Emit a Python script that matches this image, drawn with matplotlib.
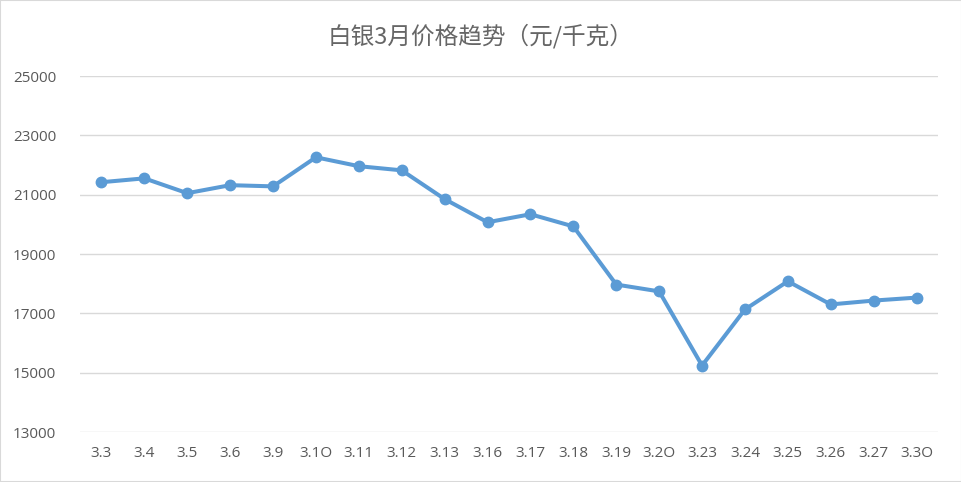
import matplotlib
matplotlib.use("Agg")
import matplotlib.pyplot as plt
from matplotlib.patches import Rectangle

# silver price, March (yuan/kg)
dates = ["3.3", "3.4", "3.5", "3.6", "3.9", "3.1O", "3.11", "3.12", "3.13", "3.16",
         "3.17", "3.18", "3.19", "3.2O", "3.23", "3.24", "3.25", "3.26", "3.27", "3.3O"]
prices = [21420, 21550, 21050, 21320, 21280, 22260, 21960, 21820, 20850, 20070,
          20340, 19930, 17970, 17740, 15240, 17130, 18080, 17300, 17430, 17530]
yticks = [13000, 15000, 17000, 19000, 21000, 23000, 25000]

plt.rcParams['font.family'] = ['Open Sans', 'Noto Sans CJK SC', 'DejaVu Sans']

fig = plt.figure(figsize=(9.62, 4.82), dpi=100)
fig.patches.append(Rectangle((0, 0), 1, 1, transform=fig.transFigure,
                             fill=False, edgecolor="#d9d9d9", linewidth=1.5))
ax = fig.add_axes([80/962, 1 - 432/482, 858/962, 356/482])

x = list(range(len(dates)))
ax.plot(x, prices, color="#5b9bd5", linewidth=2.9, marker="o", markersize=7.5,
        solid_capstyle="round", zorder=3)

ax.set_xlim(-0.5, len(dates) - 0.5)
ax.set_ylim(13000, 25000)
ax.set_yticks(yticks)
ax.set_xticks(x)
ax.set_xticklabels(dates)
ax.grid(axis="y", color="#d9d9d9", linewidth=1)
ax.set_axisbelow(True)
for s in ax.spines.values():
    s.set_visible(False)
ax.tick_params(length=0, labelsize=11, labelcolor="#595959")
ax.tick_params(axis="y", pad=17)
ax.tick_params(axis="x", pad=10)

fig.text(0.5, 1 - 36/482, "白银3月价格趋势（元/千克）", ha="center", va="center",
         fontsize=17, color="#666666", family=['Noto Sans CJK SC', 'DejaVu Sans'],
         fontweight="light")

fig.savefig("out.png", dpi=100)
